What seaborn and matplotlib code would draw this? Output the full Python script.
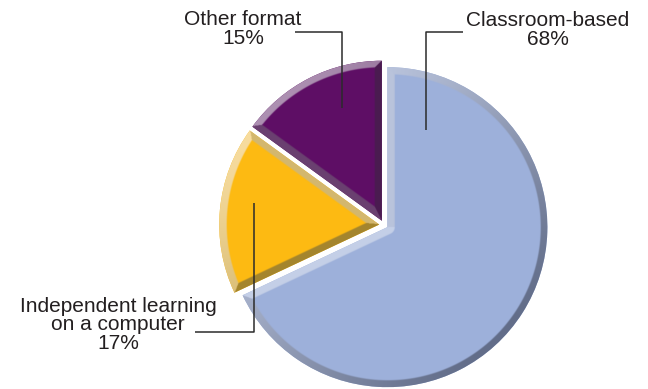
import numpy as np
import matplotlib
matplotlib.use("Agg")
import matplotlib.pyplot as plt
from matplotlib.colors import to_rgb
import seaborn as sns

# Share of training by delivery format
labels = ["Classroom-based", "Independent learning\non a computer", "Other format"]
shares = [68, 17, 15]
colors = ["#9DB0DA", "#FDBA12", "#5E0E65"]
light_edge = ["#C8D2EA", "#F8DDA0", "#AD90B2"]
dark_edge = ["#626D89", "#A2832A", "#3A0740"]
explode = [0.025, 0.03, 0.03]

sns.set_theme(style="white")
plt.rcParams["font.family"] = ["Liberation Sans", "DejaVu Sans"]

W, H = 648, 389
CX, CY, R = 384, 225, 160          # pie centre / radius in pixels (origin top-left)
BAND = 7.0 / R                      # bevel width, data units
LIGHT_DIR = np.array([-1.0, 1.0]) / np.sqrt(2.0)   # light from the upper left
TEXT_COLOR = "#231F20"


def P(x, y):
    """pixel position (origin top-left) -> data coordinates"""
    return (x - CX) / R, (CY - y) / R


def mix(c1, c2, t):
    a, b = np.array(to_rgb(c1)), np.array(to_rgb(c2))
    return a[None, None, :] * (1 - t[..., None]) + b[None, None, :] * t[..., None]


def seg_dist(dx, dy, ang):
    ux, uy = np.cos(ang), np.sin(ang)
    s = np.clip(dx * ux + dy * uy, 0, None)
    return np.hypot(dx - s * ux, dy - s * uy)


def bevel(ax, w, lo, hi):
    cx, cy = w.center
    r = w.r
    t1, t2 = np.deg2rad(w.theta1), np.deg2rad(w.theta2)
    step = 0.5 / R
    xs = np.arange(cx - r - step, cx + r + step, step)
    ys = np.arange(cy - r - step, cy + r + step, step)
    X, Y = np.meshgrid(xs, ys)
    dx, dy = X - cx, Y - cy
    rho = np.hypot(dx, dy) + 1e-9
    d_arc = np.abs(r - rho)
    d1 = seg_dist(dx, dy, t1)
    d2 = seg_dist(dx, dy, t2)
    dmin = np.minimum(d_arc, np.minimum(d1, d2))

    nx = dx / rho
    ny = dy / rho
    n1 = (np.sin(t1), -np.cos(t1))
    n2 = (-np.sin(t2), np.cos(t2))
    use1 = (d1 <= d_arc) & (d1 <= d2)
    use2 = (d2 < d_arc) & (d2 < d1)
    nx = np.where(use1, n1[0], np.where(use2, n2[0], nx))
    ny = np.where(use1, n1[1], np.where(use2, n2[1], ny))
    shade = nx * LIGHT_DIR[0] + ny * LIGHT_DIR[1]

    mid = tuple((np.array(to_rgb(lo)) + np.array(to_rgb(hi))) / 2)
    rgb = np.where((shade >= 0)[..., None],
                   mix(mid, lo, np.clip(shade, 0, 1)),
                   mix(mid, hi, np.clip(-shade, 0, 1)))
    alpha = np.clip((BAND - dmin) / step * 0.5 + 0.5, 0, 1)
    img = np.dstack([rgb, alpha])
    im = ax.imshow(img, extent=(xs[0], xs[-1], ys[0], ys[-1]), origin="lower",
                   interpolation="bilinear", zorder=2)
    im.set_clip_path(w)


fig = plt.figure(figsize=(W / 100, H / 100), dpi=100)
ax = fig.add_axes([0, 0, 1, 1])
wedges, _ = ax.pie(shares, colors=colors, explode=explode, startangle=90,
                   counterclock=False, radius=1.0,
                   wedgeprops=dict(linewidth=0, zorder=1))
for w, lo, hi in zip(wedges, light_edge, dark_edge):
    bevel(ax, w, lo, hi)

ax.set_xlim(-CX / R, (W - CX) / R)
ax.set_ylim(-(H - CY) / R, CY / R)
ax.set_aspect("auto")
ax.axis("off")

# leader lines and labels
leaders = [
    [(463, 32), (426, 32), (426, 130)],
    [(195, 332), (254, 332), (254, 203)],
    [(295, 32), (342, 32), (342, 108)],
]
label_pos = [(548, 30), (118, 325), (243, 29)]

for lab, share, pts, (tx, ty) in zip(labels, shares, leaders, label_pos):
    xy = np.array([P(*p) for p in pts])
    ax.plot(xy[:, 0], xy[:, 1], color="#2B2B2B", lw=1.1, zorder=5,
            solid_capstyle="butt")
    ax.text(*P(tx, ty), f"{lab}\n{share}%", ha="center", va="center",
            multialignment="center", fontsize=15, linespacing=0.95,
            color=TEXT_COLOR, zorder=6)

fig.savefig("out.png", dpi=100, facecolor="white")
